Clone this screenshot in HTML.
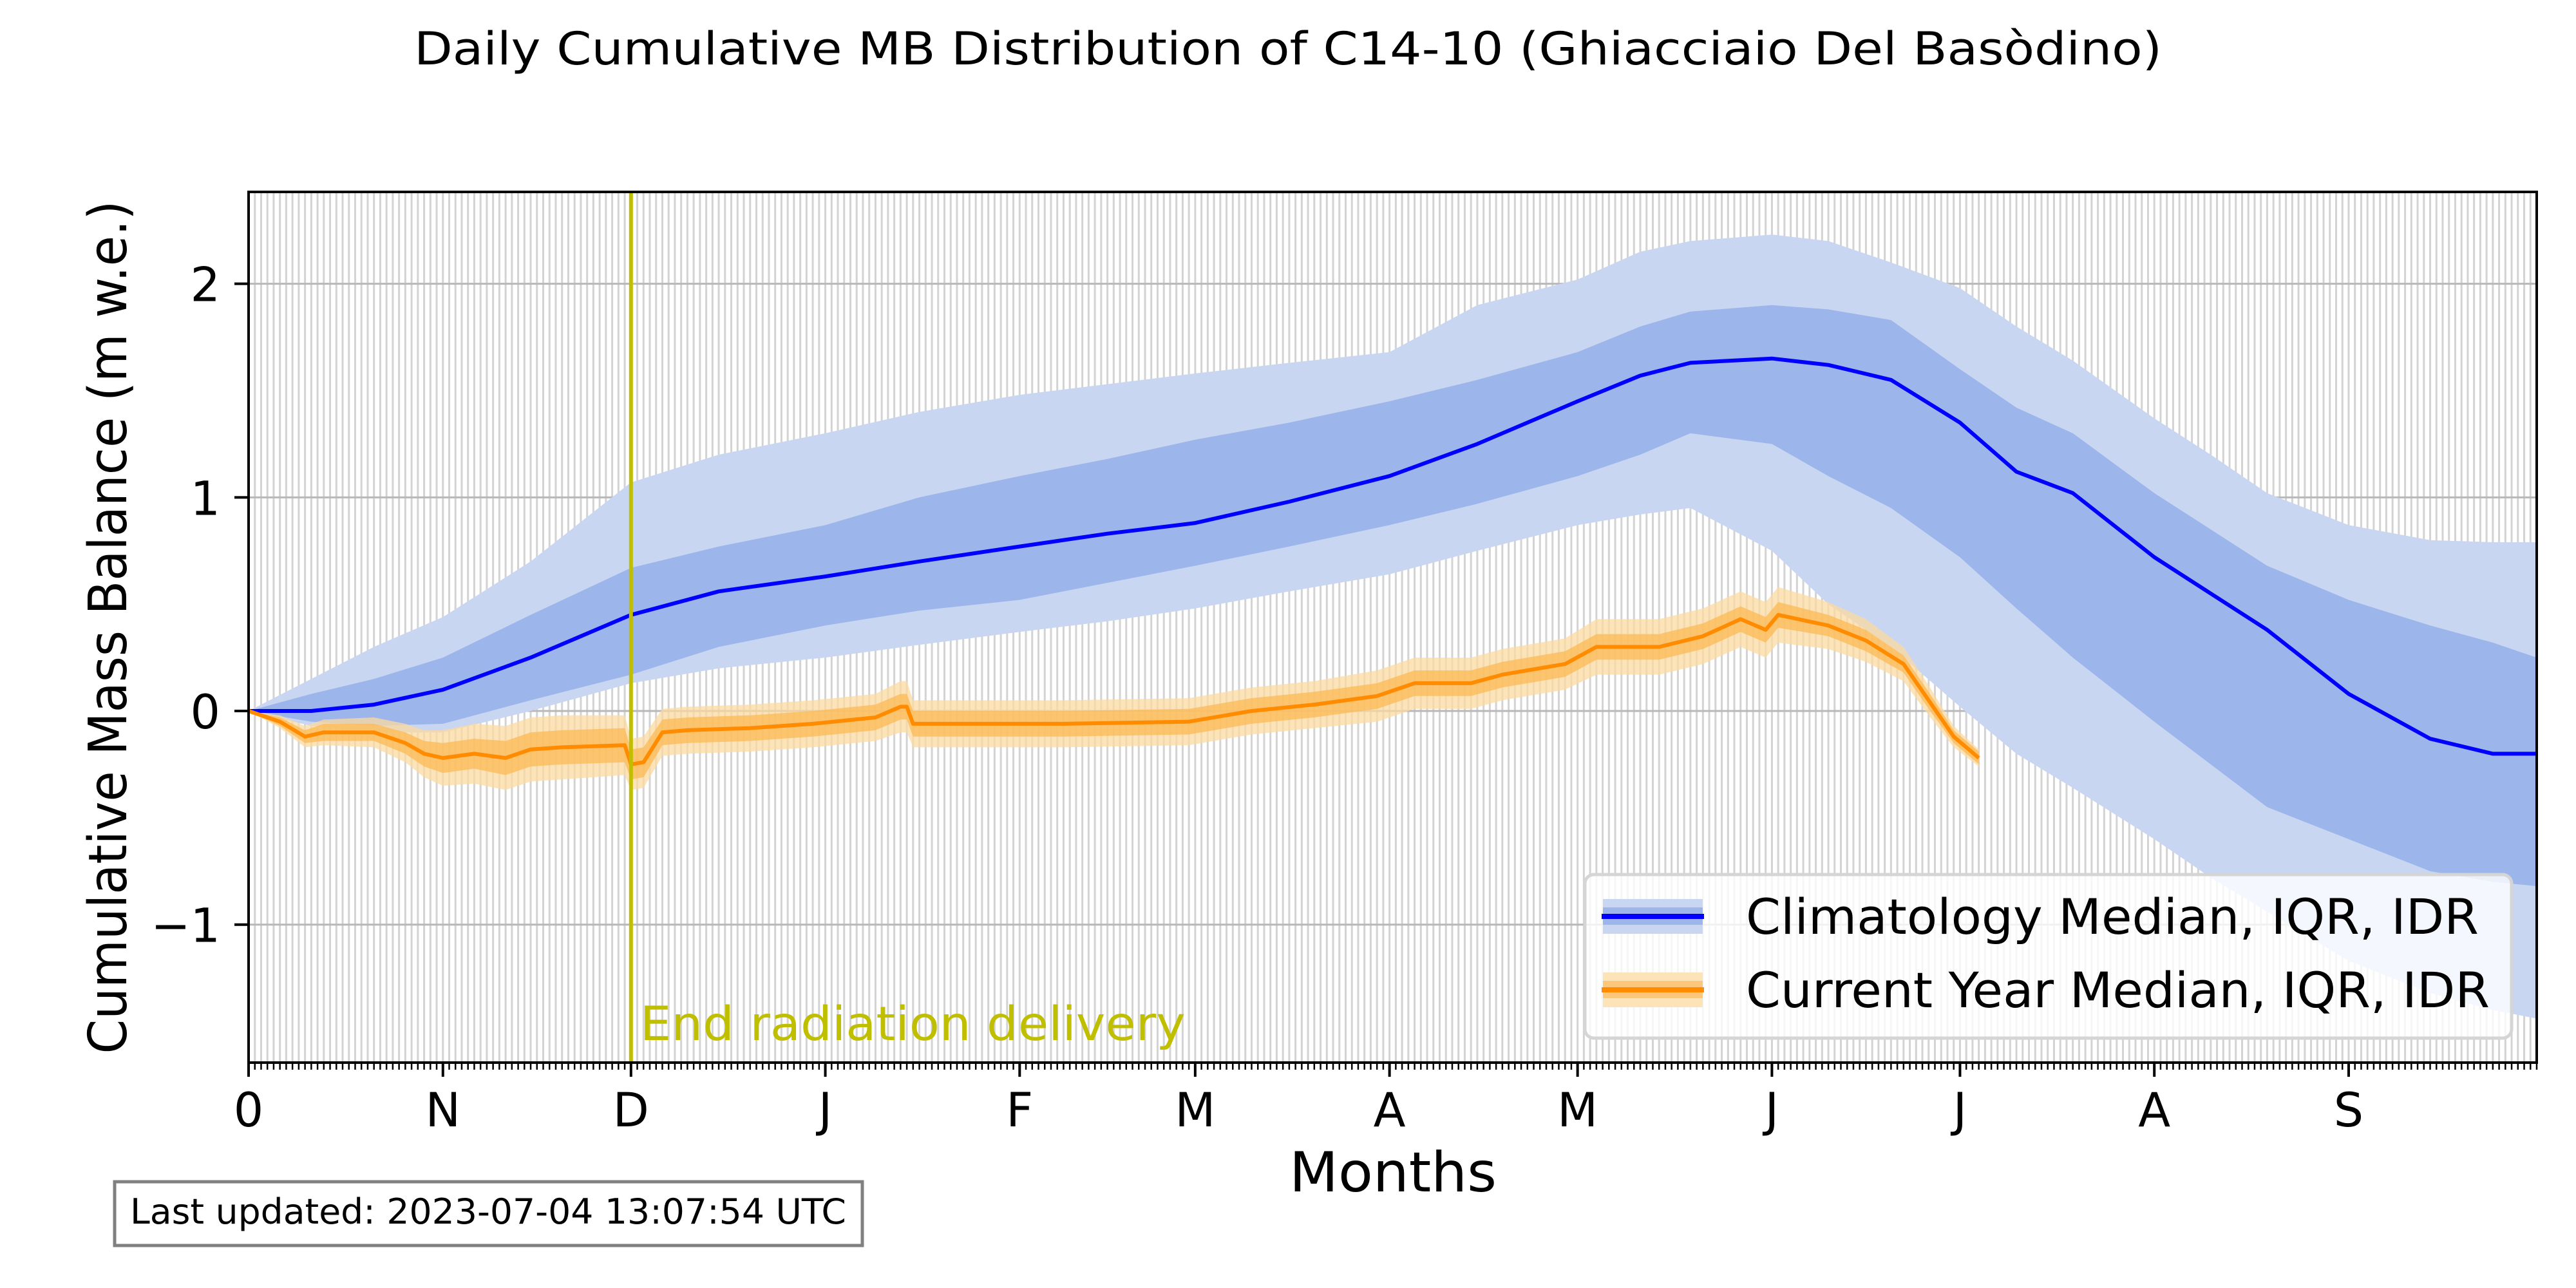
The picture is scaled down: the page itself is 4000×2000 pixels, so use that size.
<!DOCTYPE html>
<html><head><meta charset="utf-8">
<style>
html,body{margin:0;padding:0;background:#fff;}
svg{display:block;font-family:"DejaVu Sans","Liberation Sans",sans-serif;}
</style></head>
<body>
<svg id="chart" width="4000" height="2000" viewBox="0 0 4000 2000" xmlns="http://www.w3.org/2000/svg">
<rect width="4000" height="2000" fill="#fff"/>
<text x="2000" y="100" font-size="70" text-anchor="middle" textLength="2714" lengthAdjust="spacingAndGlyphs">Daily Cumulative MB Distribution of C14-10 (Ghiacciaio Del Basòdino)</text>
<g id="grid"></g>
<g id="bands"></g>
<g id="lines"></g>
<g id="axes"></g>
<text x="196" y="974" font-size="82" text-anchor="middle" transform="rotate(-90 196 974)" textLength="1325" lengthAdjust="spacingAndGlyphs">Cumulative Mass Balance (m w.e.)</text>
<text x="2163" y="1850" font-size="86" text-anchor="middle" textLength="322" lengthAdjust="spacingAndGlyphs">Months</text>
<g>
<rect x="2461" y="1358" width="1439" height="254" rx="14" fill="#fff" fill-opacity="0.8" stroke="#d5d5d5" stroke-width="5"/>
<g>
<rect x="2489" y="1396" width="155" height="54" fill="#c8d6f2"/>
<rect x="2489" y="1409" width="155" height="27" fill="#9cb5ea"/>
<line x1="2487" y1="1423" x2="2646" y2="1423" stroke="#0000ff" stroke-width="8"/>
<text x="2711" y="1450" font-size="76" textLength="1138" lengthAdjust="spacingAndGlyphs">Climatology Median, IQR, IDR</text>
</g>
<g>
<rect x="2489" y="1510" width="155" height="54" fill="#fde3b8"/>
<rect x="2489" y="1523" width="155" height="27" fill="#fcc77a"/>
<line x1="2487" y1="1537" x2="2646" y2="1537" stroke="#ff8c00" stroke-width="8"/>
<text x="2711" y="1564" font-size="76" textLength="1155" lengthAdjust="spacingAndGlyphs">Current Year Median, IQR, IDR</text>
</g>
</g>
<g>
<rect x="178" y="1835" width="1161" height="99" fill="#fff" stroke="#808080" stroke-width="5"/>
<text x="202" y="1900" font-size="54" textLength="1112" lengthAdjust="spacingAndGlyphs">Last updated: 2023-07-04 13:07:54 UTC</text>
</g>
</svg>
<script>
// ---- data ----
const climDays = [0,10,20,31,45,61,75,92,107,123,137,151,166,182,196,212,222,230,243,252,262,273,282,291,304,313,322,335,348,358,365];
const climMedian = [0,0,0.03,0.1,0.25,0.45,0.56,0.63,0.7,0.77,0.83,0.88,0.98,1.1,1.25,1.45,1.57,1.63,1.65,1.62,1.55,1.35,1.12,1.02,0.72,0.55,0.38,0.08,-0.13,-0.2,-0.2];
const climQ75 = [0,0.08,0.15,0.25,0.45,0.67,0.77,0.87,1.0,1.1,1.18,1.27,1.35,1.45,1.55,1.68,1.8,1.87,1.9,1.88,1.83,1.6,1.42,1.3,1.02,0.85,0.68,0.52,0.4,0.32,0.25];
const climQ25 = [0,-0.05,-0.07,-0.06,0.05,0.17,0.3,0.4,0.47,0.52,0.6,0.68,0.77,0.87,0.97,1.1,1.2,1.3,1.25,1.1,0.95,0.72,0.48,0.25,-0.05,-0.25,-0.45,-0.6,-0.75,-0.8,-0.82];
const climQ90 = [0,0.15,0.3,0.44,0.7,1.07,1.2,1.3,1.4,1.48,1.53,1.58,1.63,1.68,1.9,2.02,2.15,2.2,2.23,2.2,2.1,1.98,1.8,1.64,1.37,1.2,1.02,0.87,0.8,0.79,0.79];
const climQ10 = [0,-0.07,-0.1,-0.1,0.0,0.13,0.2,0.25,0.31,0.37,0.42,0.48,0.56,0.64,0.75,0.87,0.92,0.95,0.75,0.5,0.3,0.02,-0.2,-0.36,-0.6,-0.78,-0.94,-1.17,-1.32,-1.4,-1.44];
const curDays = [0,5,9,12,20,25,28,31,36,41,45,50,60,61,63,66,70,80,90,100,104,105,106,130,150,160,170,180,186,195,200,210,215,225,232,238,242,244,252,258,264,268,272,276];
const curMedian = [0,-0.05,-0.12,-0.1,-0.1,-0.15,-0.2,-0.22,-0.2,-0.22,-0.18,-0.17,-0.16,-0.25,-0.24,-0.1,-0.09,-0.08,-0.06,-0.03,0.02,0.02,-0.06,-0.06,-0.05,0.0,0.03,0.07,0.13,0.13,0.17,0.22,0.3,0.3,0.35,0.43,0.38,0.45,0.4,0.33,0.22,0.05,-0.12,-0.22];
const curIqrHalf = [0,0.02,0.03,0.04,0.04,0.05,0.06,0.07,0.07,0.08,0.08,0.08,0.08,0.07,0.07,0.06,0.06,0.06,0.06,0.06,0.06,0.06,0.06,0.06,0.06,0.06,0.06,0.06,0.06,0.06,0.06,0.06,0.06,0.06,0.06,0.06,0.06,0.06,0.05,0.05,0.04,0.04,0.03,0.03];
const curIdrHalf = [0,0.03,0.05,0.06,0.07,0.09,0.11,0.13,0.14,0.15,0.15,0.15,0.14,0.12,0.12,0.11,0.11,0.11,0.11,0.11,0.12,0.12,0.11,0.11,0.11,0.11,0.11,0.12,0.12,0.12,0.12,0.12,0.13,0.13,0.13,0.13,0.13,0.13,0.11,0.1,0.08,0.07,0.05,0.04];
const monthTickDays = [0,31,61,92,123,151,182,212,243,273,304,335];
const monthTickLabels = ["0","N","D","J","F","M","A","M","J","J","A","S"];
const yTickValues = [-1,0,1,2];
const yTickLabels = ["\u22121","0","1","2"];
const markerDay = 61;
const markerLabel = "End radiation delivery";
const xMin = 0, xMax = 365, yMin = -1.646, yMax = 2.43;

// ---- scales ----
const L=386, R=3939, T=298, B=1650;
const sx = d => L + (d - xMin) / (xMax - xMin) * (R - L);
const sy = v => B - (v - yMin) / (yMax - yMin) * (B - T);
const NS = "http://www.w3.org/2000/svg";
function mk(tag, attrs, parent){ const e=document.createElementNS(NS,tag); for(const k in attrs) e.setAttribute(k,attrs[k]); parent.appendChild(e); return e; }
const grid=document.getElementById('grid'), bands=document.getElementById('bands'), lines=document.getElementById('lines'), axes=document.getElementById('axes');

// grid
for(let d=0; d<=xMax; d++){
  const g = mk('line',{x1:sx(d),x2:sx(d),y1:T,y2:B,stroke:'#d3d3d3','stroke-width':3},grid);
  
  
}
yTickValues.forEach(v=>{
  const g = mk('line',{x1:L,x2:R,y1:sy(v),y2:sy(v),stroke:'#b8b8b8','stroke-width':3},grid);
  
  
});

function bandPath(days, lo, hi){
  let p = days.map((d,i)=>(i?'L':'M')+sx(d).toFixed(1)+','+sy(hi[i]).toFixed(1)).join('');
  for(let i=days.length-1;i>=0;i--) p += 'L'+sx(days[i]).toFixed(1)+','+sy(lo[i]).toFixed(1);
  return p+'Z';
}
function linePath(days, v){ return days.map((d,i)=>(i?'L':'M')+sx(d).toFixed(1)+','+sy(v[i]).toFixed(1)).join(''); }

let e;
e = mk('path',{d:bandPath(climDays,climQ10,climQ90),fill:'#c8d6f2'},bands);


e = mk('path',{d:bandPath(climDays,climQ25,climQ75),fill:'#9cb5ea'},bands);


const curLo10 = curMedian.map((m,i)=>m-curIdrHalf[i]), curHi90 = curMedian.map((m,i)=>m+curIdrHalf[i]);
const curLo25 = curMedian.map((m,i)=>m-curIqrHalf[i]), curHi75 = curMedian.map((m,i)=>m+curIqrHalf[i]);
e = mk('path',{d:bandPath(curDays,curLo10,curHi90),fill:'#fcd9a0','fill-opacity':0.75},bands);


e = mk('path',{d:bandPath(curDays,curLo25,curHi75),fill:'#fcb956','fill-opacity':0.75},bands);


e = mk('path',{d:linePath(climDays,climMedian),fill:'none',stroke:'#0000ff','stroke-width':6,'stroke-linejoin':'round'},lines);


e = mk('path',{d:linePath(curDays,curMedian),fill:'none',stroke:'#ff8c00','stroke-width':6,'stroke-linejoin':'round'},lines);


e = mk('line',{x1:sx(markerDay),x2:sx(markerDay),y1:T,y2:B,stroke:'#bfbf00','stroke-width':6},lines);


e = mk('text',{x:sx(markerDay)+14,y:1615,'font-size':73,fill:'#bfbf00',textLength:847,lengthAdjust:'spacingAndGlyphs'},lines);
e.textContent = markerLabel;



// axes frame
e = mk('rect',{x:L,y:T,width:R-L,height:B-T,fill:'none',stroke:'#000','stroke-width':4},axes);


for(let d=0; d<=xMax; d++){
  const t = mk('line',{x1:sx(d),x2:sx(d),y1:B,y2:B+11,stroke:'#000','stroke-width':2.5},axes);
  
  
}
monthTickDays.forEach((d,i)=>{
  const t = mk('line',{x1:sx(d),x2:sx(d),y1:B,y2:B+22,stroke:'#000','stroke-width':4},axes);
  
  
  const lb = mk('text',{x:sx(d),y:1749,'font-size':73,'text-anchor':'middle'},axes);
  lb.textContent = monthTickLabels[i];
  
  
});
yTickValues.forEach((v,i)=>{
  const t = mk('line',{x1:L-22,x2:L,y1:sy(v),y2:sy(v),stroke:'#000','stroke-width':4},axes);
  
  
  const lb = mk('text',{x:342,y:sy(v)+27,'font-size':73,'text-anchor':'end'},axes);
  lb.textContent = yTickLabels[i];
  
  
});
</script>
</body></html>
